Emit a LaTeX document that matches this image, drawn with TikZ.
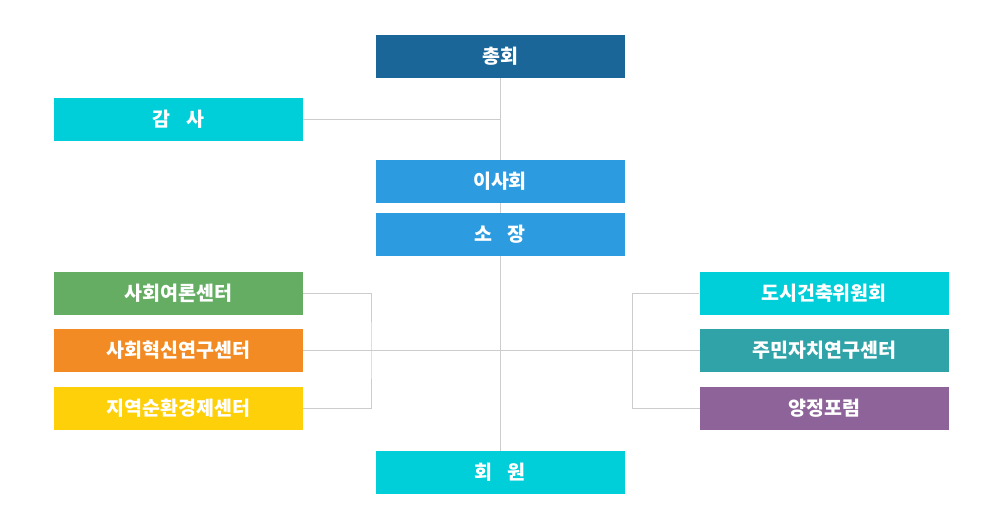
\documentclass[tikz,border=0pt]{standalone}
\usepackage{fontspec}
\setmainfont{Noto Sans CJK KR}
\definecolor{darkBlue}{RGB}{26,102,153}
\definecolor{midBlue}{RGB}{45,155,224}
\definecolor{cyanBox}{RGB}{0,206,217}
\definecolor{greenBox}{RGB}{102,173,100}
\definecolor{orangeBox}{RGB}{242,139,36}
\definecolor{yellowBox}{RGB}{253,208,9}
\definecolor{tealBox}{RGB}{48,163,168}
\definecolor{purpleBox}{RGB}{142,99,153}
\definecolor{lineGray}{RGB}{204,204,204}

\begin{document}
\begin{tikzpicture}[x=1pt,y=-1pt,
    box/.style={minimum width=249pt,minimum height=43pt,inner sep=0pt,text=white,
        font=\fontsize{19.5}{19.5}\selectfont\bfseries},
    link/.style={draw=lineGray,line width=1pt}]
            \useasboundingbox (0,0) rectangle (1000,525);
            % center column
            \node[box,fill=darkBlue] (chonghoe) at (500,56.5) {총회};
            \node[box,fill=cyanBox] (gamsa) at (178.5,119.5) {감\hspace{0.8em}사};
            \node[box,fill=midBlue] (isahoe) at (500,181.5) {이사회};
            \node[box,fill=midBlue] (sojang) at (500,234.5) {소\hspace{0.8em}장};
            \node[box,fill=cyanBox] (hoewon) at (500,472.5) {회\hspace{0.8em}원};
            % left centers
            \node[box,fill=greenBox] (yeoron) at (178.5,293.5) {사회여론센터};
            \node[box,fill=orangeBox] (hyeoksin) at (178.5,350.5) {사회혁신연구센터};
            \node[box,fill=yellowBox] (sunhwan) at (178.5,408.5) {지역순환경제센터};
            % right centers
            \node[box,fill=cyanBox] (dosi) at (824,293.5) {도시건축위원회};
            \node[box,fill=tealBox] (jachi) at (824.5,350.5) {주민자치연구센터};
            \node[box,fill=purpleBox] (forum) at (824.5,408.5) {양정포럼};
            \coordinate (leftBar) at (371,350);
            \coordinate (rightBar) at (632,350);
            % connectors
            \draw[link] (chonghoe) -- (isahoe);
            \draw[link] (isahoe) -- (sojang);
            \draw[link] (sojang) -- (hoewon);
            \draw[link] (gamsa.east) -- (gamsa.east -| chonghoe.south);
            \draw[link] (yeoron.east) -| (leftBar) |- (sunhwan.east);
            \draw[link] (hyeoksin.east) -- (jachi.west);
            \draw[link] (dosi.west) -| (rightBar) |- (forum.west);
\end{tikzpicture}
\end{document}
